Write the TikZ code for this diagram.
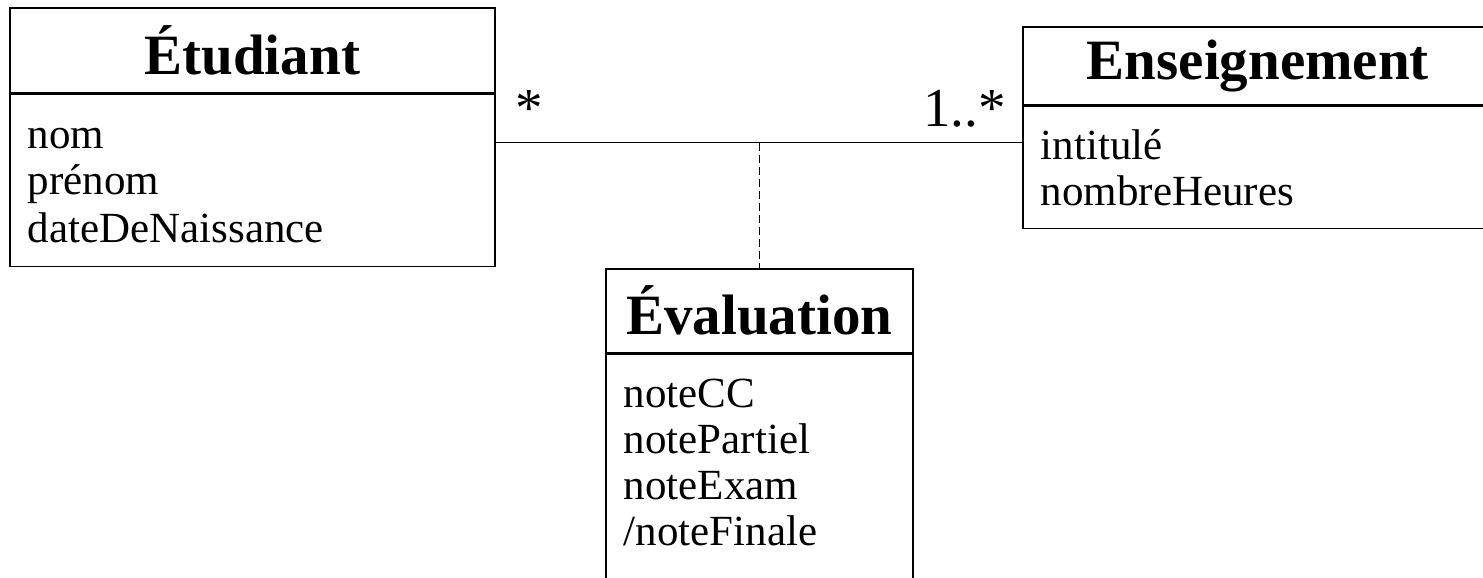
\documentclass[tikz,border=0pt]{standalone}
\usepackage{fontspec}
\setmainfont{Liberation Serif}
\usetikzlibrary{positioning}

\newcommand{\attrstrut}{\rule[-8pt]{0pt}{46pt}}

\begin{document}
\begin{tikzpicture}[x=1pt,y=-1pt,
        classname/.style={draw,line width=1.6pt,anchor=north west,inner sep=0pt,
            font=\fontsize{57}{60}\selectfont\bfseries},
        classattr/.style={draw,line width=1.6pt,align=left,inner xsep=18pt,inner ysep=15pt,
            font=\fontsize{43}{46}\selectfont},
        mult/.style={inner sep=0pt,font=\fontsize{55}{60}\selectfont}]

    \useasboundingbox (0,0) rectangle (1483,578);
    \clip (0,0) rectangle (1483,578);

    % Etudiant
    \node[classname,minimum width=485pt,minimum height=85pt] (etu) at (9,7) {Étudiant};
    \node[classattr,text width=449pt,minimum height=172pt,below=0pt of etu] (etuattr)
        {\attrstrut nom\\\attrstrut prénom\\\attrstrut dateDeNaissance};

    % Enseignement
    \node[classname,minimum width=470pt,minimum height=78pt] (ens) at (1022,26) {Enseignement};
    \node[classattr,text width=434pt,below=0pt of ens] (ensattr)
        {\attrstrut intitulé\\\attrstrut nombreHeures};

    % Evaluation (association class)
    \node[classname,minimum width=307pt,minimum height=84pt] (evaluation) at (605,268) {Évaluation};
    \node[classattr,text width=271pt,below=0pt of evaluation] (evalattr)
        {\attrstrut noteCC\\\attrstrut notePartiel\\\attrstrut noteExam\\\rule[-60pt]{0pt}{98pt}/noteFinale};

    % Association line
    \draw[line width=1.6pt] (etuattr.north east) ++(0,49) coordinate (a1) -- (a1 -| ensattr.west);

    % Multiplicities
    \node[mult,anchor=base west] (multetu) at (515,126) {*};
    \node[mult,anchor=base east] (multens) at (1006,126) {1..*};

    % Dashed link to the association class
    \draw[line width=1.2pt,dash pattern=on 8pt off 4pt] (evaluation.north |- a1) -- (evaluation.north);

\end{tikzpicture}
\end{document}
